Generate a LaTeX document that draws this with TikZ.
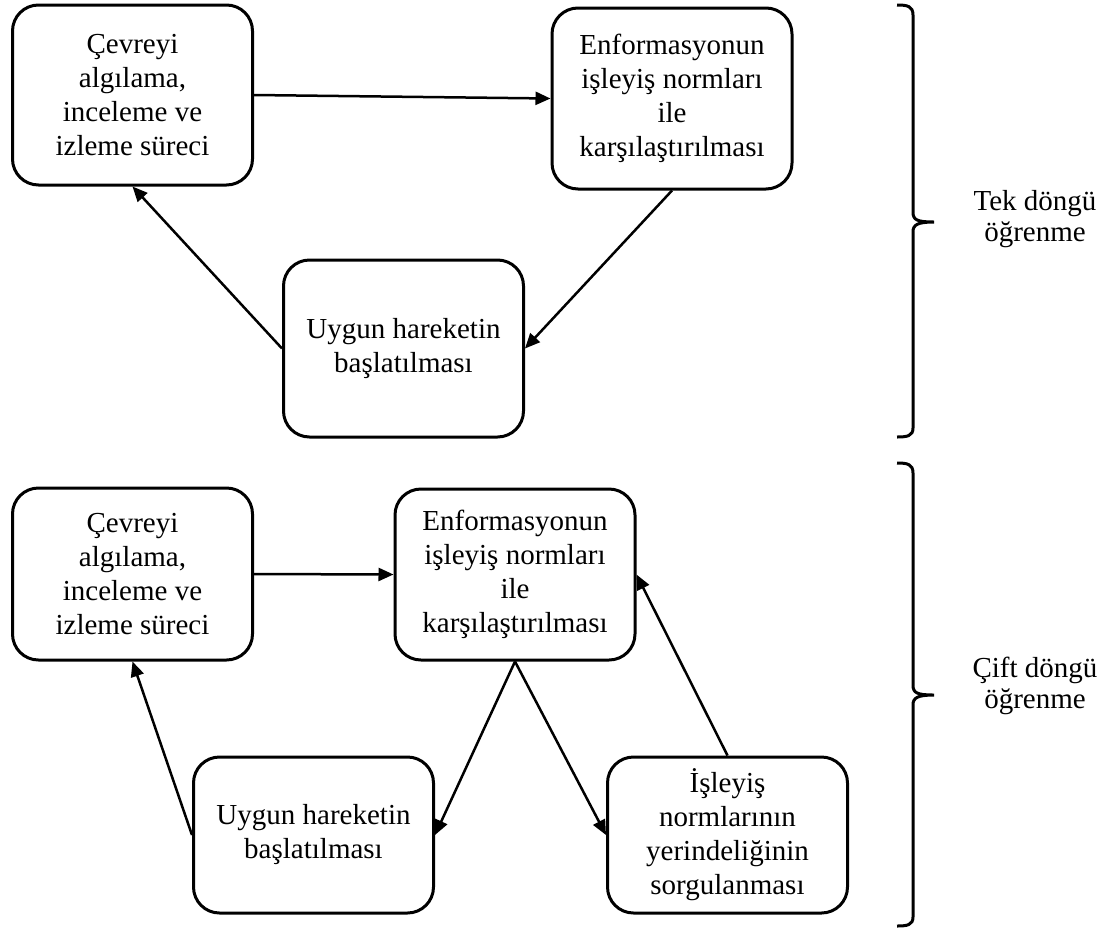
\documentclass[tikz,border=0pt]{standalone}
\usepackage{fontspec}
\setmainfont{Liberation Serif}
\usetikzlibrary{arrows.meta}
\begin{document}
\begin{tikzpicture}[x=1pt,y=-1pt]
\tikzset{
  box/.style={draw, line width=3pt, rounded corners=26pt, align=center,
    inner sep=0pt, minimum width=240pt, fill=white,
    font=\fontsize{29}{34}\selectfont},
  link/.style={line width=2.5pt, -{Triangle[length=15pt,width=13pt]}},
  bracket/.style={line width=3pt},
  looplabel/.style={align=center, font=\fontsize{29}{31}\selectfont}
}
\useasboundingbox (0,0) rectangle (1107,929);

% single-loop learning
\node[box, minimum height=180pt] (a1) at (132.5,95)
  {Çevreyi\\algılama,\\inceleme ve\\izleme süreci};
\node[box, minimum height=181pt] (b1) at (672,98.5)
  {Enformasyonun\\işleyiş normları\\ile\\karşılaştırılması};
\node[box, minimum height=177pt] (c1) at (403.5,348.5)
  {Uygun hareketin\\başlatılması};

\draw[link] (a1.east) -- (b1.west);
\draw[link] (b1.south) -- (c1.east);
\draw[link] (c1.west) -- (a1.south);

% double-loop learning
\node[box, minimum height=172pt] (a2) at (132.5,574)
  {Çevreyi\\algılama,\\inceleme ve\\izleme süreci};
\node[box, minimum height=171pt] (b2) at (515,574.5)
  {Enformasyonun\\işleyiş normları\\ile\\karşılaştırılması};
\node[box, minimum height=156pt] (c2) at (313.5,835)
  {Uygun hareketin\\başlatılması};
\node[box, minimum height=156pt] (d2) at (727.5,835)
  {İşleyiş\\normlarının\\yerindeliğinin\\sorgulanması};

\draw[link] (a2.east) -- (b2.west);
\draw[link] (b2.south) -- (c2.east);
\draw[link] (b2.south) -- (d2.west);
\draw[link] (c2.west) -- (a2.south);
\draw[link] (d2.north) -- (b2.east);

% curly brackets with their labels
\draw[bracket] (897,5) .. controls (907,5) and (913,6) .. (913,15)
  -- (913,212) .. controls (913,220) and (917,222) .. (934,222)
  .. controls (917,222) and (913,225) .. (913,232)
  -- (913,428) .. controls (913,436) and (907,437) .. (897,437);
\node[looplabel] (tek) at (1035,219) {Tek döngü\\öğrenme};

\draw[bracket] (897,463) .. controls (907,463) and (913,464) .. (913,473)
  -- (913,685) .. controls (913,693) and (917,695) .. (934,695)
  .. controls (917,695) and (913,698) .. (913,705)
  -- (913,917) .. controls (913,925) and (907,926) .. (897,926);
\node[looplabel] (cift) at (1035,686) {Çift döngü\\öğrenme};
\end{tikzpicture}
\end{document}
